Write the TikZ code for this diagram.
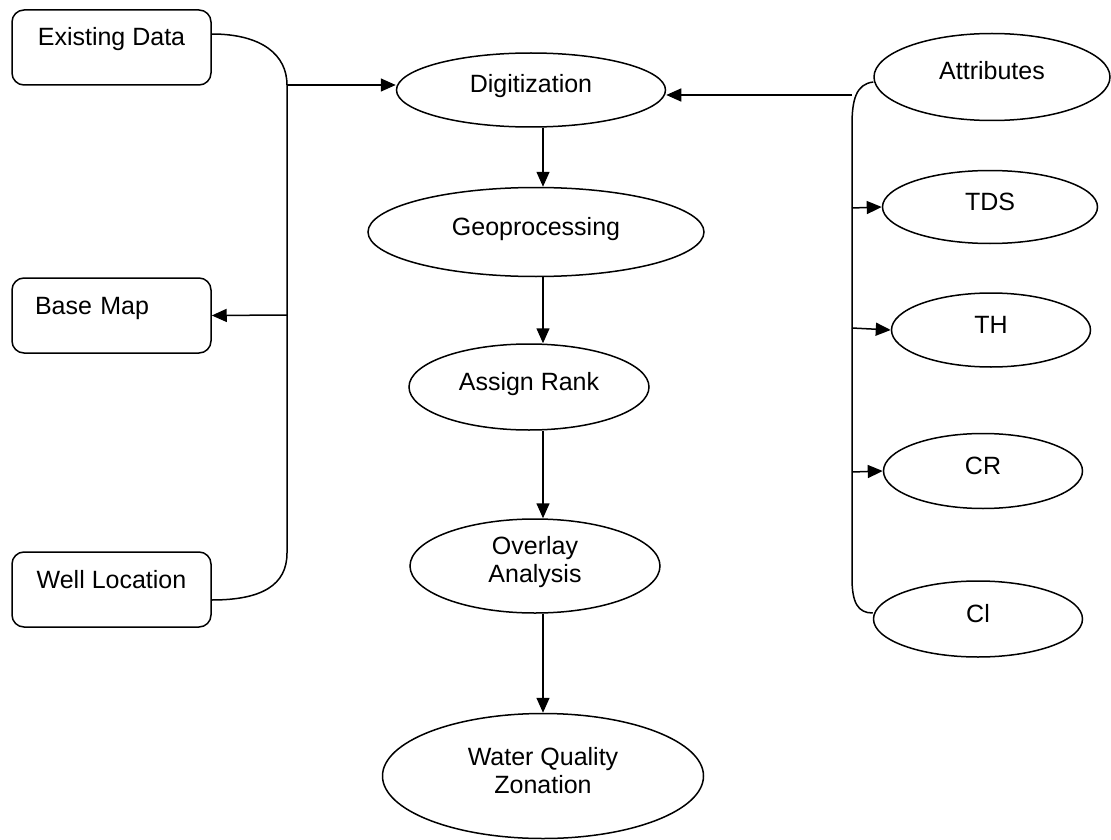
\documentclass[tikz,border=0pt]{standalone}
\usepackage{fontspec}
\setmainfont{Liberation Sans}
\usetikzlibrary{shapes.geometric, arrows.meta}

\begin{document}
\begin{tikzpicture}[
    x=1pt, y=-1pt,
    line width=1.5pt,
    >={Triangle[length=15pt, width=13pt]},
    every node/.style={font=\fontsize{25}{28}\selectfont},
    box/.style={rectangle, draw, rounded corners=12pt, minimum width=199pt, minimum height=75pt, inner xsep=0pt, inner ysep=6pt, text height=30pt, text depth=33pt, align=center},
    oval/.style={ellipse, draw, inner sep=0pt, text height=18pt, text depth=12pt, align=center}
]
    \useasboundingbox (0,0) rectangle (1111,840);

    % input boxes
    \node[box] (exist) at (111.5,47.5) {Existing Data};
    \node[box, align=left, text width=153pt, inner xsep=23pt] (basemap) at (111.5,315.5) {Base Map};
    \node[box] (well) at (111.5,589.5) {Well Location};

    % main steps
    \node[oval, minimum width=269pt, minimum height=74pt] (digit) at (531,90) {Digitization};
    \node[oval, minimum width=336pt, minimum height=89pt] (geo) at (536,232) {Geoprocessing};
    \node[oval, minimum width=240pt, minimum height=86pt] (rank) at (529,387) {Assign Rank};
    \node[oval, minimum width=250pt, minimum height=94pt, text height=44pt] (overlay) at (535,566) {Overlay\\Analysis};
    \node[oval, minimum width=321pt, minimum height=125pt, text height=46pt] (zone) at (543,776) {Water Quality\\Zonation};

    % attributes
    \node[oval, minimum width=236pt, minimum height=87pt] (attr) at (992,77) {Attributes};
    \node[oval, minimum width=215pt, minimum height=73pt] (tds) at (990,207) {TDS};
    \node[oval, minimum width=199pt, minimum height=74pt] (th) at (991,330) {TH};
    \node[oval, minimum width=199pt, minimum height=75pt] (cr) at (983,471) {CR};
    \node[oval, minimum width=209pt, minimum height=76pt] (cl) at (978,619) {Cl};

    % left bracket
    \coordinate (ltop) at (287,85);
    \coordinate (lmid) at (287,315);
    \coordinate (lbot) at (287,553);
    \draw ([yshift=13.5pt]exist.east) .. controls (262,34) and (287,55) .. (ltop) -- (lbot)
        .. controls (287,585) and (262,600) .. ([yshift=-10.5pt]well.east);
    \draw[->] (ltop) -- (digit.west |- ltop);
    \draw[->] (lmid) -- (basemap.east);

    % right bracket
    \coordinate (rtop) at (852,95);
    \coordinate (rtds) at (852,208);
    \coordinate (rth) at (852,328);
    \coordinate (rcr) at (852,472);
    \draw ([yshift=-5pt]attr.west) .. controls (856,84) and (852,100) .. (852,125) -- (852,578)
        .. controls (852,603) and (858,613) .. ([yshift=6pt]cl.west);
    \draw[->] (rtop) -- (digit.east |- rtop);
    \draw[->] (rtds) -- (tds.west);
    \draw[->] (rth) -- (th.west);
    \draw[->] (rcr) -- (cr.west);

    % flow down
    \draw[->] (digit.south -| zone.north) -- (geo.north -| zone.north);
    \draw[->] (geo.south -| zone.north) -- (rank.north -| zone.north);
    \draw[->] (rank.south -| zone.north) -- (overlay.north -| zone.north);
    \draw[->] (overlay.south -| zone.north) -- (zone.north);
\end{tikzpicture}
\end{document}
